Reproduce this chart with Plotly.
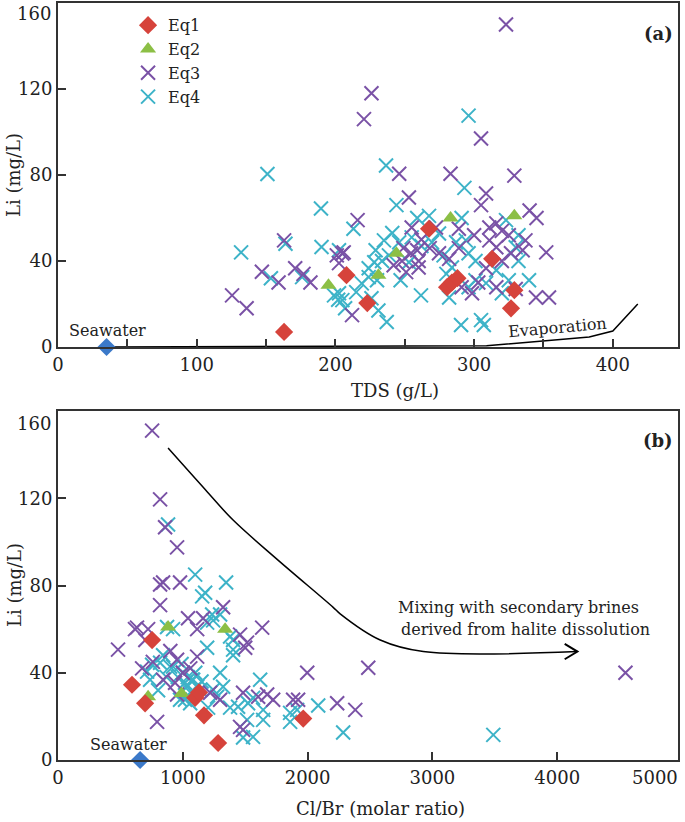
import plotly.graph_objects as go

FONT = "DejaVu Serif"

# ---------------- Panel (a): TDS vs Li ----------------
eq1_tds = [163, 208, 223, 267.5, 280.5, 284, 288, 313, 329, 326.6]
eq1_li_a = [7, 33.4, 20.4, 55, 27.8, 30, 32, 41, 26.4, 18]

eq2_tds = [195, 231, 244, 283, 329]
eq2_li_a = [28.7, 33.4, 43.6, 60, 61]

eq3_tds = [125.5, 136, 147, 159, 163, 171, 177, 182, 202.6, 205, 201, 206, 212, 216,
           226, 220.6, 323, 305, 246, 283, 329, 253, 308.6, 305, 340, 345, 289, 316,
           320, 325, 311, 337, 352, 249, 254.5, 259, 260, 248, 242, 251, 260, 282,
           289, 308.6, 320, 326.6, 291, 298.5, 316, 330, 344.6, 354, 255, 272.5,
           274.7, 311, 316, 262, 268, 300, 335, 303]
eq3_li_a = [24, 18, 35, 30, 49.6, 36.6, 34, 30, 39, 43.5, 42.6, 44, 14.8, 59,
            118, 106, 150, 97, 80.6, 80.6, 79.7, 69.5, 71.4, 66, 63.5, 60, 55, 57.5,
            54, 52, 49.6, 49.6, 44, 46, 43.6, 45, 40, 40, 38, 34.8, 37, 41,
            46, 36.6, 40, 43.6, 27.8, 25, 27.8, 27, 23, 23, 55.6, 55.6,
            43.6, 55.6, 46.4, 50, 46, 52, 45, 30]

eq4_tds = [132, 151, 153.5, 164, 176, 189.6, 190, 199, 202, 207, 202.6, 202.6, 205,
           213, 215, 219, 224, 224, 226, 228, 229, 230, 231, 233.6, 235, 236.5, 237,
           238.6, 241, 244, 246, 247, 253, 255, 259, 261.7, 262, 267.5, 269.6, 274.7,
           278, 280, 282, 284, 287, 290.6, 291, 293, 296, 294, 296, 296, 301, 301,
           305, 307, 308.6, 316, 320, 323, 325, 330, 332, 332, 339.6]
eq4_li_a = [44, 80.5, 32, 48, 32.5, 64.4, 46.5, 24, 22, 18, 45, 25, 21.8,
            55, 25.5, 29.6, 36.6, 32.5, 22.7, 39.4, 45, 31, 17, 40, 49.6, 84.4, 11.6,
            42.6, 53, 66, 48.7, 31, 39.4, 51, 60, 24, 47, 61, 48.7, 52.8,
            42.6, 34, 23, 37, 48.7, 10.2, 60, 74, 107.6, 49.6, 43.6, 27.8, 40, 31,
            12.5, 10.2, 29.7, 35.7, 25, 59, 31, 46.4, 40, 52, 31]

seawater_tds = [35]
seawater_li = [0]

evap_tds = [35, 290, 309, 383, 400, 418]
evap_li = [0, 0.3, 0.6, 4.6, 7.4, 20]

# ---------------- Panel (b): Cl/Br vs Li ----------------
eq1_clbr = [593, 698, 754, 1099, 1170, 1283, 1965, 1130]
eq1_li_b = [34.5, 26, 55, 28.5, 20.5, 7.8, 19, 31]

eq2_clbr = [722, 882, 990, 1339]
eq2_li_b = [29, 61, 30.5, 60]

eq3_clbr = [754, 818, 858, 954, 818, 842, 978, 1323, 818, 633, 722, 481, 1042, 1115,
            1163, 674, 954, 1115, 794, 954, 842, 938, 1459, 1515, 1636, 1500, 1997,
            2486, 1483, 1604, 1676, 1724, 1884, 1924, 2237, 2382, 1483, 1459, 1219,
            1299, 4547, 1000, 900, 760, 700, 1060, 617]
eq3_li_b = [151, 119.5, 106.7, 97.5, 80.5, 81.4, 81.4, 70, 71, 60.7, 60, 50.6, 65, 60,
            65, 42, 46, 47.4, 17.5, 30, 36.8, 35.4, 57.5, 53.8, 60.7, 51.5, 40,
            42.3, 30.8, 29, 30, 27.6, 27.6, 27.6, 26, 23, 13.8, 15.2, 30.8,
            27.6, 40, 40, 50, 45, 55, 42, 60]

eq4_clbr = [882, 1099, 1155, 1347, 874, 1195, 1243, 1299, 1379, 1403, 1195, 1403, 1403,
            714, 754, 818, 842, 898, 922, 922, 1002, 1018, 1034, 1075, 1083, 1115,
            1139, 978, 1018, 1059, 1203, 1275, 1243, 1323, 1299, 738, 802, 1379, 1443,
            1523, 1563, 1620, 1644, 1644, 1515, 1483, 1563, 1860, 1860, 1916, 2085,
            2285, 3488, 1179, 1235, 960, 1040, 1100, 1060, 1150, 990, 870]
eq4_li_b = [108, 85, 75, 81.4, 61, 63, 64, 66.7, 56.6, 50.6, 51.5, 55, 48,
            40.5, 43.7, 44.6, 48, 42.8, 42.8, 60, 40, 35.4, 33.6, 36.8, 36.8, 33.6,
            32.2, 27.6, 27.6, 26, 24, 29, 32.2, 33.6, 40, 36.8, 32, 24, 24.4,
            26, 28.5, 36.8, 23, 18.4, 18.4, 10.3, 10.6, 21.6, 17.5, 23, 25,
            12.6, 11.5, 76.7, 66.7, 38, 38, 40, 31, 36, 44, 38]

seawater_clbr = [658]

mix_clbr = [882, 1195, 1403, 1756, 2205, 2261, 2582, 2927, 4162]
mix_li = [143, 123, 110, 92, 70, 67, 55, 49.7, 49.7]
head_clbr = [4060, 4162, 4060]
head_li = [53.2, 49.7, 46.2]

x_ticks_a = [0, 100, 200, 300, 400]
x_ticks_b = [0, 1000, 2000, 3000, 4000]
y_ticks = [0, 40, 80, 120, 160]
y_ticktext = ["0", "40", "80", "120", ""]

RED = "#d6433b"
GREEN = "#8cbf45"
PURPLE = "#7a52a6"
CYAN = "#3db3c8"
BLUE = "#3b79c9"

fig = go.Figure()

def add_sets(xs1, ys1, xs2, ys2, xs3, ys3, xs4, ys4, xa, ya, show):
    fig.add_trace(go.Scatter(x=xs4, y=ys4, mode="markers", name="Eq4", legendrank=4,
                             marker=dict(symbol="x-thin-open", size=14, color=CYAN,
                                         line=dict(width=2, color=CYAN)),
                             xaxis=xa, yaxis=ya, showlegend=show))
    fig.add_trace(go.Scatter(x=xs3, y=ys3, mode="markers", name="Eq3", legendrank=3,
                             marker=dict(symbol="x-thin-open", size=14, color=PURPLE,
                                         line=dict(width=2, color=PURPLE)),
                             xaxis=xa, yaxis=ya, showlegend=show))
    fig.add_trace(go.Scatter(x=xs2, y=ys2, mode="markers", name="Eq2", legendrank=2,
                             marker=dict(symbol="triangle-up", size=14, color=GREEN),
                             xaxis=xa, yaxis=ya, showlegend=show))
    fig.add_trace(go.Scatter(x=xs1, y=ys1, mode="markers", name="Eq1", legendrank=1,
                             marker=dict(symbol="diamond", size=14, color=RED),
                             xaxis=xa, yaxis=ya, showlegend=show))

add_sets(eq1_tds, eq1_li_a, eq2_tds, eq2_li_a, eq3_tds, eq3_li_a, eq4_tds, eq4_li_a, "x", "y", True)
add_sets(eq1_clbr, eq1_li_b, eq2_clbr, eq2_li_b, eq3_clbr, eq3_li_b, eq4_clbr, eq4_li_b, "x2", "y2", False)

fig.add_trace(go.Scatter(x=evap_tds, y=evap_li, mode="lines", line=dict(color="black", width=1.5),
                         xaxis="x", yaxis="y", showlegend=False, cliponaxis=False))
fig.add_trace(go.Scatter(x=seawater_tds, y=seawater_li, mode="markers",
                         marker=dict(symbol="diamond", size=14, color=BLUE),
                         xaxis="x", yaxis="y", showlegend=False, cliponaxis=False))
fig.add_trace(go.Scatter(x=mix_clbr, y=mix_li, mode="lines", line=dict(color="black", width=1.5, shape="spline"),
                         xaxis="x2", yaxis="y2", showlegend=False))
fig.add_trace(go.Scatter(x=head_clbr, y=head_li, mode="lines", line=dict(color="black", width=2),
                         xaxis="x2", yaxis="y2", showlegend=False))
fig.add_trace(go.Scatter(x=seawater_clbr, y=seawater_li, mode="markers",
                         marker=dict(symbol="diamond", size=14, color=BLUE),
                         xaxis="x2", yaxis="y2", showlegend=False, cliponaxis=False))

axis_common = dict(showgrid=False, zeroline=False, showline=True, linecolor="#333333", linewidth=2,
                   mirror=True, ticks="inside", ticklen=8, tickwidth=1.5, tickcolor="#333333",
                   automargin=False,
                   tickfont=dict(family=FONT, size=18, color="#222222"))

fig.update_layout(
    width=685, height=822,
    margin=dict(l=58, r=7, t=3, b=62),
    plot_bgcolor="white", paper_bgcolor="white",
    hovermode=False,
    xaxis=dict(axis_common, range=[0, 447], tickvals=x_ticks_a, anchor="y",
               minor=dict(dtick=50, ticks="inside", ticklen=8, tickcolor="#333333", tickwidth=1.5)),
    yaxis=dict(axis_common, range=[0, 160], tickvals=y_ticks, ticktext=y_ticktext,
               domain=[0.5456, 1], anchor="x"),
    xaxis2=dict(axis_common, range=[0, 4968], tickvals=x_ticks_b, anchor="y2"),
    yaxis2=dict(axis_common, range=[0, 160], tickvals=y_ticks, ticktext=y_ticktext,
                domain=[0, 0.461], anchor="x2"),
    legend=dict(x=0.113, y=0.993, xanchor="left", yanchor="top", bgcolor="rgba(0,0,0,0)",
                font=dict(family=FONT, size=16, color="#222222"), itemwidth=30, tracegroupgap=0),
)

def ann(text, x, y, size=17, angle=0, bold=False, xanchor="center"):
    fig.add_annotation(text=("<b>%s</b>" % text) if bold else text, x=x, y=y,
                       xref="paper", yref="paper", showarrow=False, textangle=angle,
                       xanchor=xanchor, yanchor="middle",
                       font=dict(family=FONT, size=size, color="#222222"))

# pixel -> paper helpers
def px(xp):
    return (xp - 58) / 620.0
def py(yp):
    return (822 - 62 - yp) / 757.0

ann("160", px(53), py(13), size=18, xanchor="right")
ann("160", px(53), py(423), size=18, xanchor="right")
ann("Li (mg/L)", px(14), py(175), size=18, angle=-90)
ann("Li (mg/L)", px(14), py(585), size=18, angle=-90)
ann("TDS (g/L)", px(395), py(390), size=18)
ann("Cl/Br (molar ratio)", px(380), py(808), size=18)
ann("5000", px(655), py(777), size=18)
ann("(a)", px(658), py(33), size=18, bold=True)
ann("(b)", px(658), py(440), size=18, bold=True)
ann("Seawater", px(107), py(330), size=16)
ann("Seawater", px(128), py(744), size=16)
ann("Evaporation", px(557), py(327), size=16, angle=-5)
ann("Mixing with secondary brines", px(518), py(607), size=16)
ann("derived from halite dissolution", px(525), py(629), size=16)

fig.write_html("out.html", config={"displayModeBar": False},
               post_script="document.body.style.margin='0';document.body.style.overflow='hidden';")
